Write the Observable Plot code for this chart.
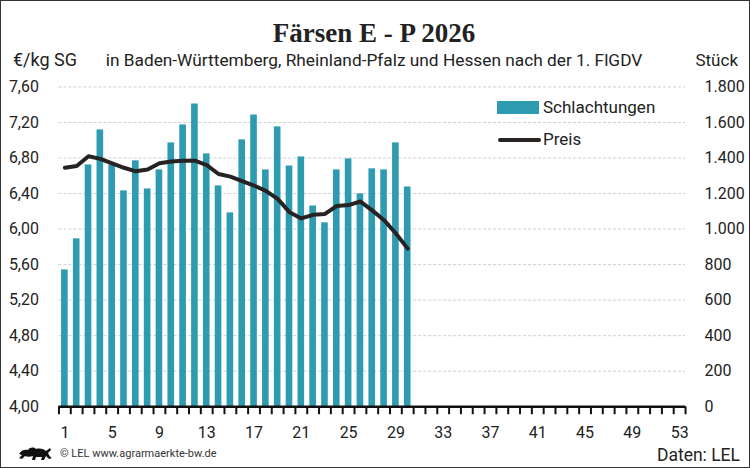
<!DOCTYPE html>
<html><head><meta charset="utf-8">
<script src="https://cdn.jsdelivr.net/npm/d3@7"></script>
<script src="https://cdn.jsdelivr.net/npm/@observablehq/plot@0.6"></script>
<style>
html,body{margin:0;padding:0;background:#fff;}
#frame{position:relative;width:750px;height:468px;box-sizing:border-box;border:1.5px solid #333;overflow:hidden;font-family:Roboto,sans-serif;color:#222;}
#chart{position:absolute;left:-1.5px;top:-1.5px;}
.t{position:absolute;white-space:nowrap;line-height:1;}
</style></head>
<body>
<div id="frame">
  <div id="chart"></div>
  <div class="t" id="title" style="left:0;width:746px;text-align:center;top:19px;font-family:'Liberation Serif',serif;font-weight:bold;font-size:27px;color:#222;"></div>
  <div class="t" id="unitL" style="left:12px;top:50px;font-size:18px;"></div>
  <div class="t" id="sub" style="left:0;width:746px;text-align:center;top:51px;font-size:17.3px;"></div>
  <div class="t" id="unitR" style="right:11px;top:50.5px;font-size:17px;"></div>
  <div style="position:absolute;left:496px;top:100px;width:42px;height:13px;background:#2e9bb1;"></div>
  <div class="t" id="legBars" style="left:542px;top:98px;font-size:17px;"></div>
  <div style="position:absolute;left:497px;top:137px;width:43px;height:4px;border-radius:2px;background:#262322;"></div>
  <div class="t" id="legLine" style="left:542px;top:130px;font-size:17px;"></div>
  <svg style="position:absolute;left:16px;top:444px;" width="36" height="18" viewBox="0 0 36 18">
    <path d="M2 9 C4 5 8 4 11 5 C13 2 17 2 19 4 C23 3 27 4 29 6 L33 3 L34 5 L31 8 C32 10 33 12 35 13 L32 14 L29 11 L27 15 L24 15 L25 12 L19 12 L18 15 L15 15 L16 11 C13 12 10 12 8 11 L5 14 L2 13 L5 10 Z" fill="#111"/>
  </svg>
  <div class="t" id="copy" style="left:59px;top:447px;font-size:11px;color:#333;"></div>
  <div class="t" id="src" style="right:9px;top:446px;font-size:17.5px;"></div>
</div>
<script>
const titleText = "Färsen E - P 2026";
const subtitleText = "in Baden-Württemberg, Rheinland-Pfalz und Hessen nach der 1. FlGDV";
const leftUnit = "€/kg SG";
const rightUnit = "Stück";
const barLabel = "Schlachtungen";
const lineLabel = "Preis";
const copyText = "© LEL www.agrarmaerkte-bw.de";
const sourceText = "Daten: LEL";

const weeks = d3.range(1, 31);
const slaughter = [770, 945, 1361, 1558, 1361, 1215, 1384, 1226, 1333, 1485,
  1586, 1704, 1423, 1243, 1091, 1502, 1642, 1333, 1575, 1355,
  1406, 1130, 1035, 1333, 1395, 1198, 1339, 1333, 1485, 1237];
const price = [6.69, 6.71, 6.82, 6.79, 6.74, 6.69, 6.65, 6.67, 6.74, 6.76,
  6.77, 6.77, 6.72, 6.62, 6.59, 6.54, 6.49, 6.43, 6.34, 6.19,
  6.12, 6.16, 6.17, 6.26, 6.27, 6.31, 6.21, 6.10, 5.95, 5.78];
const xLabelTicks = d3.range(1, 54, 4);
const countTicks = d3.range(0, 1801, 200);
const priceMin = 4.0, priceMax = 7.6, countMax = 1800;

document.getElementById("title").textContent = titleText;
document.getElementById("sub").textContent = subtitleText;
document.getElementById("unitL").textContent = leftUnit;
document.getElementById("unitR").textContent = rightUnit;
document.getElementById("legBars").textContent = barLabel;
document.getElementById("legLine").textContent = lineLabel;
document.getElementById("copy").textContent = copyText;
document.getElementById("src").textContent = sourceText;

const k = countMax / (priceMax - priceMin);
const toCount = p => (p - priceMin) * k;
const data = weeks.map((w, i) => ({week: w, n: slaughter[i], p: price[i]}));

const chart = Plot.plot({
  width: 750, height: 468,
  marginTop: 86.5, marginBottom: 61.5, marginLeft: 58.5, marginRight: 64.5,
  x: {type: "linear", domain: [0.5, 53.5]},
  y: {domain: [0, countMax]},
  style: {fontFamily: "Roboto, sans-serif", fontSize: "16px", color: "#222", background: "transparent"},
  marks: [
    Plot.ruleY(countTicks.filter(d => d > 0), {stroke: "#cfcfcf", strokeDasharray: "3,2", strokeWidth: 1}),
    Plot.rectY(data, {x1: d => d.week - 0.5, x2: d => d.week + 0.5, y: "n", fill: "#2e9bb1", insetLeft: 2.6, insetRight: 2.6}),
    Plot.line(data, {x: "week", y: d => toCount(d.p), stroke: "#262322", strokeWidth: 4, strokeLinejoin: "round", strokeLinecap: "round"}),
    Plot.ruleY([0], {stroke: "#111", strokeWidth: 2.5}),
    Plot.axisX({ticks: d3.range(0.5, 54, 1), tickSize: 8, tickFormat: () => "", stroke: "#111", strokeWidth: 2, label: null}),
    Plot.axisX({ticks: xLabelTicks, tickSize: 0, tickPadding: 20, tickFormat: d => String(d), label: null}),
    Plot.axisY({anchor: "left", ticks: countTicks, tickSize: 0, tickPadding: 20,
      tickFormat: d => (d / k + priceMin).toFixed(2).replace(".", ","), label: null}),
    Plot.axisY({anchor: "right", ticks: countTicks, tickSize: 0, tickPadding: 19,
      tickFormat: d => d3.format(",")(d).replace(/,/g, "."), label: null})
  ]
});
document.getElementById("chart").appendChild(chart);
</script>
</body></html>
